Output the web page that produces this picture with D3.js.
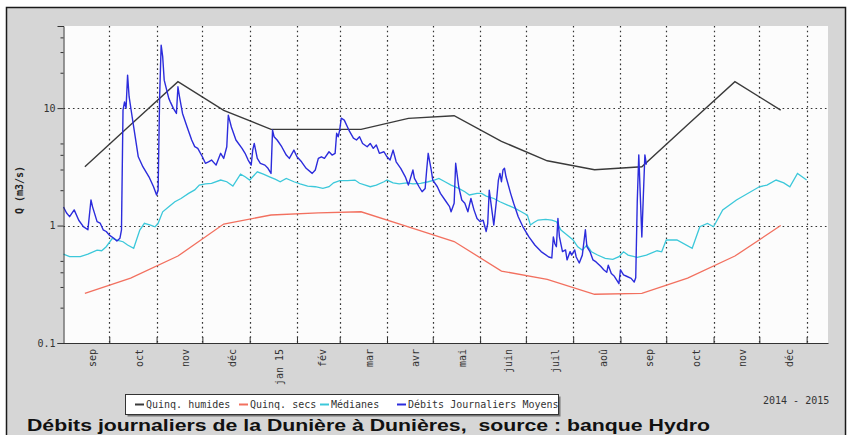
<!DOCTYPE html>
<html><head><meta charset="utf-8">
<script src="https://cdn.jsdelivr.net/npm/d3@7"></script>
<style>body{margin:0;background:#fff;} svg{display:block}</style>
</head><body>
<svg id="c" width="851" height="435"></svg>
<script>
// ---------------- DATA ----------------
const startDate = "2014-09-01";
const endDate = "2016-01-15";
const monthLabels = ["sep","oct","nov","déc","jan 15","fév","mar","avr","mai","juin","juil","aoû","sep","oct","nov","déc"];
const monthMid = ["2014-09-15","2014-10-15","2014-11-15","2014-12-15","2015-01-15","2015-02-15","2015-03-15","2015-04-15",
                  "2015-05-15","2015-06-15","2015-07-15","2015-08-15","2015-09-15","2015-10-15","2015-11-15","2015-12-15"];
const quinqHumides = [3.17,7.2,16.8,9.55,6.59,6.59,6.59,8.18,8.61,5.21,3.56,2.99,3.17,7.2,16.8,9.6];
const quinqSecs    = [0.265,0.357,0.55,1.03,1.23,1.28,1.31,0.975,0.731,0.41,0.348,0.26,0.265,0.357,0.55,1.0];
// [day since startDate, m3/s]
const medianes = [[0,0.572],[4,0.543],[11,0.543],[16,0.572],[22,0.618],[25,0.610],[28,0.660],[32,0.778],[35,0.753],[39,0.728],
 [42,0.682],[46,0.640],[50,0.915],[53,1.044],[57,1.01],[60,0.977],[62,1.044],[65,1.31],[69,1.445],[73,1.595],[77,1.70],[82,1.88],
 [86,2.01],[89,2.21],[93,2.26],[97,2.29],[103,2.44],[107,2.36],[111,2.17],[116,2.74],[119,2.60],[122,2.44],[127,2.87],[131,2.74],
 [135,2.60],[139,2.47],[142,2.36],[146,2.52],[151,2.36],[155,2.26],[160,2.17],[165,2.14],[170,2.07],[174,2.14],[177,2.31],[181,2.41],
 [186,2.41],[191,2.44],[194,2.29],[201,2.14],[205,2.21],[210,2.36],[212,2.44],[216,2.31],[220,2.26],[225,2.31],[229,2.26],[234,2.29],
 [239,2.36],[243,2.44],[246,2.52],[250,2.36],[254,2.21],[259,2.07],[263,1.94],[266,1.82],[271,1.88],[274,1.88],[277,1.78],[282,1.70],
 [286,1.595],[291,1.495],[296,1.40],[300,1.31],[304,1.228],[306,1.01],[308,1.056],[311,1.114],[316,1.13],[320,1.114],[323,1.077],
 [326,0.915],[330,0.830],[334,0.753],[337,0.660],[340,0.618],[343,0.682],[346,0.598],[350,0.561],[355,0.526],[360,0.515],[364,0.543],
 [367,0.598],[370,0.561],[376,0.536],[382,0.561],[389,0.610],[392,0.598],[395,0.753],[402,0.753],[412,0.640],[417,0.977],[422,1.044],
 [426,0.977],[432,1.355],[441,1.65],[456,2.14],[461,2.21],[467,2.44],[472,2.31],[476,2.14],[481,2.78],[487,2.44]];
const debitsJournaliers = [[0,1.44],[2,1.28],[4,1.19],[7,1.36],[10,1.11],[13,0.98],[16,0.92],[18,1.65],[19,1.45],[22,1.08],[24,1.05],
 [26,0.92],[28,0.89],[30,0.83],[33,0.78],[35,0.74],[37,0.78],[38,0.92],[39,9.6],[40,11.3],[41,10.0],[42,19.1],[43,12.5],[45,8.4],
 [47,5.7],[49,3.85],[52,3.17],[56,2.6],[59,2.14],[61,1.82],[62,2.0],[63,12.5],[64,34.4],[65,27.4],[66,17.3],[69,12.1],[70,11.3],
 [72,9.95],[74,9.0],[75,15.2],[76,12.5],[78,9.0],[81,6.9],[84,5.35],[86,4.7],[88,4.54],[91,3.85],[93,3.39],[95,3.49],[97,3.61],
 [100,3.27],[103,4.12],[105,3.73],[107,4.69],[108,8.7],[110,6.9],[113,5.35],[117,4.54],[119,4.12],[121,3.61],[123,3.27],[124,4.39],
 [125,5.0],[127,3.73],[129,3.39],[132,3.27],[134,3.07],[136,2.78],[137,6.5],[138,5.7],[140,5.35],[143,4.69],[146,3.98],[148,3.73],
 [151,4.39],[153,3.85],[156,3.49],[159,3.07],[163,2.78],[165,2.97],[167,3.73],[169,3.85],[171,3.73],[174,4.25],[176,3.98],[178,4.12],
 [179,6.1],[180,5.7],[181,6.5],[182,8.2],[184,7.9],[187,6.5],[190,5.56],[192,5.35],[194,5.7],[196,5.0],[199,4.69],[201,5.0],[203,4.54],
 [205,4.85],[207,4.12],[210,4.25],[212,3.85],[214,3.61],[216,4.39],[218,3.49],[221,3.07],[224,2.6],[226,2.21],[229,2.97],[230,2.52],
 [233,2.14],[235,1.94],[237,2.07],[238,2.97],[239,4.12],[241,2.97],[242,2.44],[245,2.14],[247,1.88],[250,1.65],[253,1.45],[254,1.31],
 [256,1.55],[257,3.39],[259,2.14],[261,1.65],[263,1.55],[265,1.31],[267,1.70],[269,1.36],[271,1.15],[273,1.08],[275,1.11],[277,0.89],
 [278,1.04],[279,2.0],[281,1.27],[282,1.01],[284,1.76],[285,2.44],[286,2.78],[287,2.36],[288,2.97],[289,3.07],[290,2.6],[293,1.88],
 [295,1.55],[298,1.19],[301,0.98],[305,0.80],[309,0.68],[313,0.60],[318,0.54],[320,0.53],[321,0.80],[322,0.70],[323,0.66],[324,1.15],
 [325,0.80],[327,0.60],[329,0.62],[330,0.51],[332,0.60],[333,0.56],[335,0.62],[336,0.54],[338,0.48],[340,0.56],[342,0.92],[343,0.66],
 [345,0.60],[347,0.51],[349,0.49],[352,0.45],[354,0.42],[356,0.40],[357,0.46],[359,0.39],[361,0.37],[364,0.32],[365,0.42],[367,0.38],
 [369,0.37],[372,0.355],[374,0.33],[375,0.36],[376,1.6],[377,4.0],[378,1.8],[379,0.8],[380,1.8],[381,4.0],[382,3.3]];
const yMajor = [0.1,1,10];
const yMinor = [0.2,0.3,0.4,0.5,2,3,4,5,20,30,40];
const legendItems = [
  {label:"Quinq. humides", color:"#3a3a3a"},
  {label:"Quinq. secs", color:"#f2705f"},
  {label:"Médianes", color:"#3cc8da"},
  {label:"Débits Journaliers Moyens", color:"#2c2cdc"}];
const periodLabel = "2014 - 2015";
const yTitle = "Q (m3/s)";
const title = "Débits journaliers de la Dunière à Dunières,  source : banque Hydro";

// ---------------- CHART ----------------
const svg = d3.select("#c");
const W = 851, H = 435;
const L = 63.5, R = 828, T = 26, B = 343;
const mono = "'DejaVu Sans Mono', monospace";
const parse = d3.timeParse("%Y-%m-%d");
const start = parse(startDate);

svg.append("rect").attr("width", W).attr("height", H).attr("fill", "#fff");
svg.append("rect").attr("x", 6.5).attr("y", 7.5).attr("width", 839).attr("height", 440)
  .attr("fill", "#d6d6d6").attr("stroke", "#1a1a1a").attr("stroke-width", 1.5);
svg.append("rect").attr("x", L).attr("y", T).attr("width", R - L).attr("height", B - T).attr("fill", "#fcfcfc");

const x = d3.scaleTime().domain([start, parse(endDate)]).range([L, R]);
const y = d3.scaleLog().domain([0.1, 50]).range([B, T]);

const monthStarts = d3.timeMonth.range(new Date(2014, 9, 1), new Date(2016, 0, 2));

// grid
const grid = svg.append("g").attr("stroke", "#333").attr("stroke-width", 1.2).attr("stroke-dasharray", "1.6,3.1");
grid.selectAll("line.v").data(monthStarts).join("line")
  .attr("x1", d => Math.round(x(d)) + 0.5).attr("x2", d => Math.round(x(d)) + 0.5)
  .attr("y1", T).attr("y2", B);
grid.selectAll("line.h").data([1, 10]).join("line")
  .attr("x1", L).attr("x2", R).attr("y1", d => Math.round(y(d)) + 0.5).attr("y2", d => Math.round(y(d)) + 0.5);

// lines
const dayX = d => x(d3.timeDay.offset(start, d[0]));
const line = d3.line().x(dayX).y(d => y(d[1]));
const monthly = arr => arr.map((v, i) => [parse(monthMid[i]), v]);
const mline = d3.line().x(d => x(d[0])).y(d => y(d[1]));

svg.append("path").datum(monthly(quinqSecs)).attr("d", mline)
  .attr("fill", "none").attr("stroke", legendItems[1].color).attr("stroke-width", 1.3);
svg.append("path").datum(medianes).attr("d", line)
  .attr("fill", "none").attr("stroke", legendItems[2].color).attr("stroke-width", 1.3);
svg.append("path").datum(monthly(quinqHumides)).attr("d", mline)
  .attr("fill", "none").attr("stroke", legendItems[0].color).attr("stroke-width", 1.4);
svg.append("path").datum(debitsJournaliers).attr("d", line)
  .attr("fill", "none").attr("stroke", legendItems[3].color).attr("stroke-width", 1.4).attr("stroke-linejoin", "round");

// y axis
const yAx = svg.append("g").attr("transform", `translate(${L},0)`)
  .call(d3.axisLeft(y).tickValues(yMajor).tickFormat(d3.format("")).tickSize(6).tickPadding(2));
svg.append("g").attr("transform", `translate(${L},0)`)
  .call(d3.axisLeft(y).tickValues(yMinor).tickFormat("").tickSize(3))
  .call(g => g.select(".domain").remove());
// x axis
svg.append("g").attr("transform", `translate(0,${B})`)
  .call(d3.axisBottom(x).tickValues(monthStarts).tickFormat("").tickSize(-6).tickSizeOuter(0));
svg.selectAll(".tick line, .domain").attr("stroke", "#333");
yAx.selectAll("text").attr("font-family", mono).attr("font-size", 10).attr("fill", "#333");

// month labels
svg.append("g").selectAll("text").data(monthLabels).join("text")
  .attr("transform", (d, i) => `translate(${x(monthStarts[i]) - 17},349) rotate(-90)`)
  .attr("text-anchor", "end").attr("dy", "0.33em")
  .attr("font-family", mono).attr("font-size", 10).attr("fill", "#333").text(d => d);

// y title
svg.append("text").attr("transform", "translate(20,190) rotate(-90)")
  .attr("text-anchor", "middle").attr("dy", "0.33em")
  .attr("font-family", mono).attr("font-size", 10).attr("font-weight", "bold").attr("fill", "#222").text(yTitle);

// legend
const lg = svg.append("g");
lg.append("rect").attr("x", 127.5).attr("y", 396.5).attr("width", 433).attr("height", 20).attr("fill", "#777");
lg.append("rect").attr("x", 125.5).attr("y", 394.5).attr("width", 433).attr("height", 20)
  .attr("fill", "#fff").attr("stroke", "#333");
const lgX = [135, 239, 320, 397];
legendItems.forEach((it, i) => {
  lg.append("line").attr("x1", lgX[i]).attr("x2", lgX[i] + 9).attr("y1", 404.5).attr("y2", 404.5)
    .attr("stroke", it.color).attr("stroke-width", 2);
  lg.append("text").attr("x", lgX[i] + 11).attr("y", 408).attr("font-family", mono).attr("font-size", 10)
    .attr("fill", "#333").text(it.label);
});
svg.append("text").attr("x", 763).attr("y", 404).attr("font-family", mono).attr("font-size", 10)
  .attr("fill", "#333").text(periodLabel);

// title
svg.append("text").attr("x", 27).attr("y", 431).attr("font-family", "'Liberation Sans', Arial, sans-serif")
  .attr("font-weight", "bold").attr("font-size", 17).attr("fill", "#111").style("white-space", "pre")
  .attr("textLength", 683).attr("lengthAdjust", "spacingAndGlyphs").text(title);
</script>
</body></html>
